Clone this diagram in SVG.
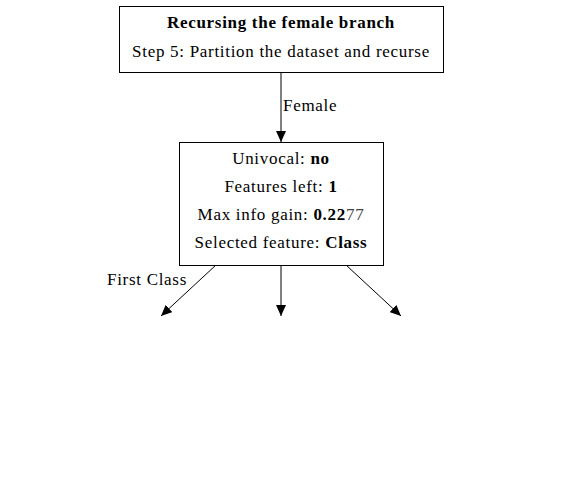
<svg xmlns="http://www.w3.org/2000/svg" width="563" height="487" viewBox="0 0 563 487">
<style>
text{font-family:"Liberation Serif","Times New Roman",serif;font-size:17px;letter-spacing:0.7px;fill:#000}
.c{text-anchor:middle}
.b{font-weight:bold}
.box{fill:#fff;stroke:#000;stroke-width:1}
.edge{stroke:#000;stroke-width:1;fill:none}
</style>
<defs>
<marker id="ah" viewBox="0 0 11 10" refX="11" refY="5" markerWidth="11" markerHeight="10" markerUnits="userSpaceOnUse" orient="auto">
<path d="M0,0 L11,5 L0,10 Z" fill="#000"/>
</marker>
</defs>
<rect width="563" height="487" fill="#fff"/>
<g id="connectors">
<line class="edge" x1="281" y1="72" x2="281" y2="142" marker-end="url(#ah)"/>
<text x="283" y="111">Female</text>
<line class="edge" x1="216" y1="265" x2="161" y2="316" marker-end="url(#ah)"/>
<text x="107" y="285">First Class</text>
<line class="edge" x1="281" y1="265" x2="281" y2="316" marker-end="url(#ah)"/>
<line class="edge" x1="346" y1="265" x2="401" y2="316" marker-end="url(#ah)"/>
</g>
<g id="node-top">
<rect class="box" x="119.5" y="6.5" width="324" height="66"/>
<text class="c b" x="281" y="28">Recursing the female branch</text>
<text class="c" x="281" y="57">Step 5: Partition the dataset and recurse</text>
</g>
<g id="node-female">
<rect class="box" x="179.5" y="142.5" width="204" height="123"/>
<text class="c" x="281" y="164">Univocal: <tspan class="b">no</tspan></text>
<text class="c" x="281" y="192">Features left: <tspan class="b">1</tspan></text>
<text class="c" x="281" y="220">Max info gain: <tspan class="b">0.22</tspan><tspan fill="#444">77</tspan></text>
<text class="c" x="281" y="248">Selected feature: <tspan class="b">Class</tspan></text>
</g>
</svg>
